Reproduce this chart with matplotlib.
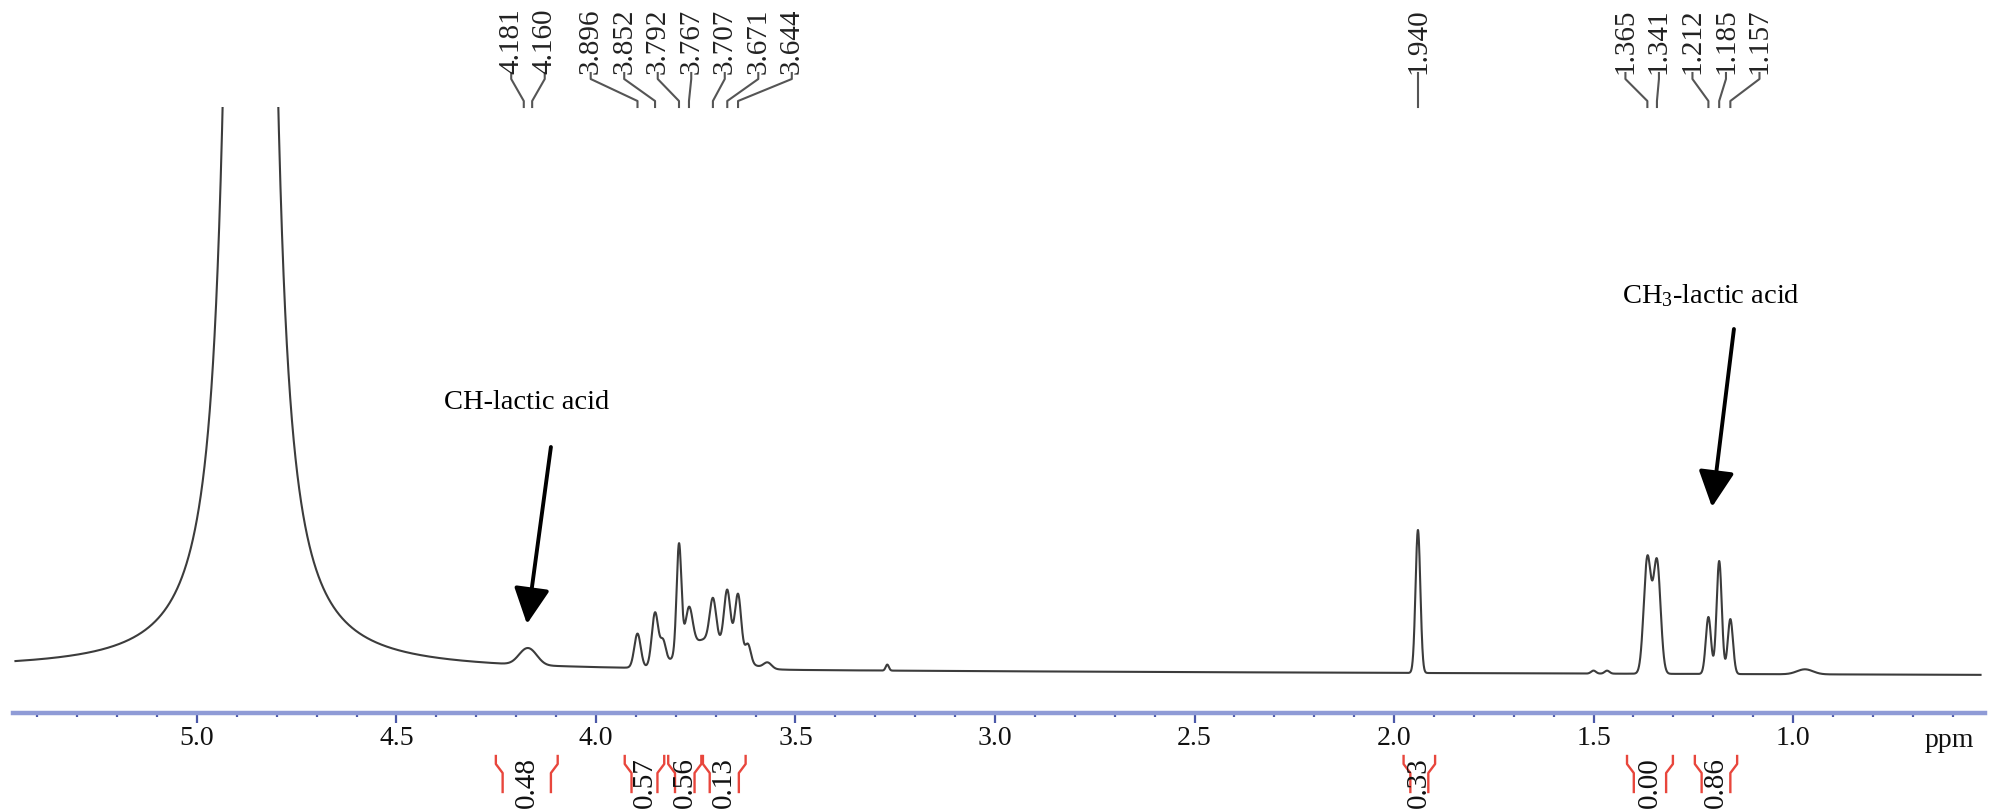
import numpy as np
import matplotlib.pyplot as plt
from matplotlib import transforms

plt.rcParams['font.family'] = 'Liberation Serif'
plt.rcParams['mathtext.fontset'] = 'custom'
plt.rcParams['mathtext.rm'] = 'Liberation Serif'
plt.rcParams['mathtext.default'] = 'rm'

# peak list: centre (ppm), height (a.u.), width (ppm), shape
peak_ppm = [4.866, 4.866, 4.181, 4.160, 3.896, 3.852, 3.832, 3.792, 3.767,
            3.720, 3.707, 3.671, 3.644, 3.619, 3.570, 3.270, 1.940, 1.500,
            1.466, 1.365, 1.341, 1.212, 1.185, 1.157, 0.970]
peak_height = [300, 8500, 10, 10, 34, 53, 22, 110, 40,
               30, 42, 58, 62, 18, 6, 6, 143, 3,
               3, 115, 112, 57, 113, 55, 5]
peak_width = [0.033, 0.018, 0.018, 0.018, 0.008, 0.008, 0.007, 0.006, 0.009,
              0.060, 0.008, 0.008, 0.008, 0.007, 0.010, 0.004, 0.006, 0.006,
              0.006, 0.009, 0.009, 0.0065, 0.0065, 0.0065, 0.02]
peak_shape = ['G', 'L', 'G', 'G', 'G', 'G', 'G', 'G', 'G',
              'G', 'G', 'G', 'G', 'G', 'G', 'G', 'G', 'G',
              'G', 'G', 'G', 'G', 'G', 'G', 'G']

# slight baseline drift
baseline_ppm = [0.55, 5.45]
baseline_level = [-6, 0]

# assigned peaks, grouped as labelled above the spectrum
label_groups = [[4.181, 4.160],
                [3.896, 3.852, 3.792, 3.767, 3.707, 3.671, 3.644],
                [1.940],
                [1.365, 1.341, 1.212, 1.185, 1.157]]

# integral regions (ppm) and values
integral_from = [4.251, 3.928, 3.819, 3.732, 1.976, 1.416, 1.246]
integral_to = [4.096, 3.829, 3.736, 3.625, 1.897, 1.301, 1.140]
integral_value = ['0.48', '0.57', '0.56', '0.13', '0.33', '0.00', '0.86']

major_ticks = [5.0, 4.5, 4.0, 3.5, 3.0, 2.5, 2.0, 1.5, 1.0]

# build the trace from the peak list
ppm = np.linspace(5.455, 0.53, 20000)
spec = np.interp(ppm, baseline_ppm, baseline_level)
for c, h, w, s in zip(peak_ppm, peak_height, peak_width, peak_shape):
    d = ppm - c
    if s == 'G':
        spec += h * np.exp(-d**2 / (2 * w**2))
    else:
        spec += h / (1 + (d / w)**2)

W, H = 2002, 812
fig = plt.figure(figsize=(W / 100, H / 100), dpi=100)
ax = fig.add_axes([0, 1 - 714 / H, 1, (714 - 108) / H])
ax.plot(ppm, spec, color='#3c3c3c', lw=1.5)
ax.set_xlim(5.0 + 197 / 399, 5.0 - 1805 / 399)
ax.set_ylim(-44, 562)

for side in ['top', 'left', 'right']:
    ax.spines[side].set_visible(False)
ax.spines['bottom'].set_bounds(0.52, 5.46)
ax.spines['bottom'].set_color('#8f9bd6')
ax.spines['bottom'].set_linewidth(3.2)
ax.set_yticks([])
ax.set_xticks(major_ticks)
ax.set_xticklabels([f'{t:.1f}' for t in major_ticks])
ax.set_xticks(np.arange(0.6, 5.45, 0.1), minor=True)
ax.tick_params(axis='x', which='major', direction='out', length=7, width=1.6,
               color='#4b58a8', labelsize=20, pad=2, labelcolor='#111111')
ax.tick_params(axis='x', which='minor', direction='out', length=3, width=1.6,
               color='#4b58a8')

trans = transforms.blended_transform_factory(ax.transData, fig.transFigure)


def fy(px):
    return 1 - px / H


ax.text(0.609, fy(741), 'ppm', transform=trans, ha='center', va='center',
        fontsize=20, color='#111111')

# peak labels with connectors
spacing = 0.084
for group in label_groups:
    n = len(group)
    mid = np.mean(group)
    for i, p in enumerate(group):
        lx = mid + ((n - 1) / 2 - i) * spacing
        ax.plot([lx, lx, p, p], [fy(74), fy(80), fy(102), fy(108)],
                transform=trans, color='#555555', lw=1.5, clip_on=False)
        ax.text(lx, fy(74), f'{p:.3f}', transform=trans, rotation=90,
                ha='center', va='bottom', fontsize=21, color='#222222')

# integrals below the axis
red = '#e8463c'
bend = 0.017
for a, b, v in zip(integral_from, integral_to, integral_value):
    ax.plot([a, a, a - bend, a - bend], [fy(757), fy(765), fy(774), fy(793)],
            transform=trans, color=red, lw=1.7, clip_on=False)
    ax.plot([b, b, b + bend, b + bend], [fy(757), fy(765), fy(774), fy(793)],
            transform=trans, color=red, lw=1.7, clip_on=False)
    ax.text((a + b) / 2, fy(757), v, transform=trans, rotation=90,
            ha='center', va='top', fontsize=21, color='#111111')

# annotations
arrow = dict(arrowstyle='-|>,head_length=1.1,head_width=0.55', lw=2.8,
             color='black', shrinkA=0, shrinkB=0, mutation_scale=20)
ax.annotate('', xy=(4.173, 45), xytext=(4.113, 222), arrowprops=arrow)
ax.text(4.175, 267, 'CH-lactic acid', ha='center', va='center', fontsize=20.5)
ax.annotate('', xy=(1.203, 162), xytext=(1.148, 340), arrowprops=arrow)
ax.text(1.206, 374, 'CH$_3$-lactic acid', ha='center', va='center', fontsize=20.5)

fig.savefig('out.png', dpi=100)
